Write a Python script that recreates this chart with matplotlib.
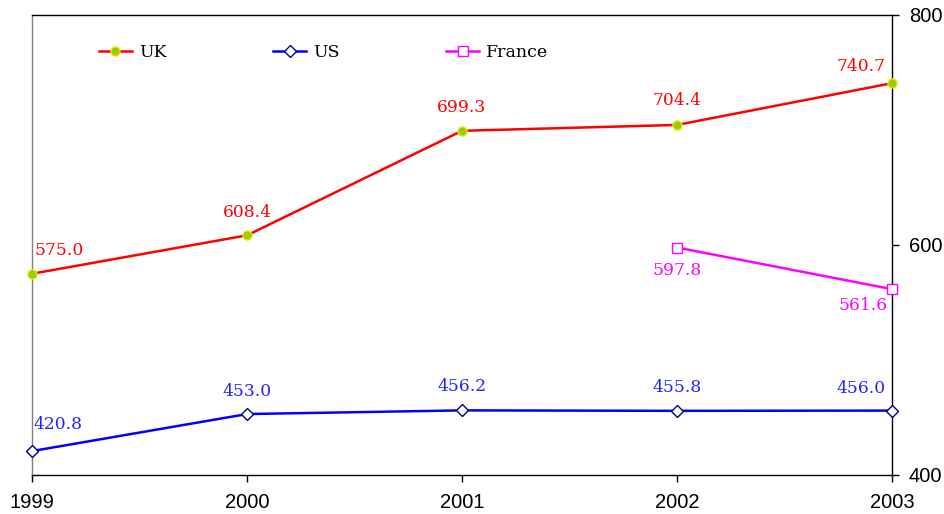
import matplotlib
matplotlib.use("Agg")
import matplotlib.pyplot as plt

years = [1999, 2000, 2001, 2002, 2003]
uk = [575.0, 608.4, 699.3, 704.4, 740.7]
us = [420.8, 453.0, 456.2, 455.8, 456.0]
france_years = [2002, 2003]
france = [597.8, 561.6]
yticks = [400, 600, 800]

fig = plt.figure(figsize=(9.44, 5.14), dpi=100)
ax = fig.add_axes([32/944, 1-475/514, 860/944, 460/514])
ax.set_xlim(1999, 2003)
ax.set_ylim(400, 800)

ax.plot(years, uk, color='#ff0000', lw=1.8, marker='o', ms=6.5,
        mfc='#99cc00', mec='#e6e600', mew=1.0, clip_on=False, label='UK', zorder=3)
ax.plot(years, us, color='#0000ff', lw=1.8, marker='D', ms=6.5,
        mfc='white', mec='#000080', mew=1.0, clip_on=False, label='US', zorder=3)
ax.plot(france_years, france, color='#ff00ff', lw=1.8, marker='s', ms=6.5,
        mfc='white', mec='#ff00ff', mew=1.0, clip_on=False, label='France', zorder=3)

px = 0.72  # points per pixel at 100 dpi
label_font = dict(family='DejaVu Serif', size=12.3)

def lab(x, y, color, dx, dy, ha):
    ax.annotate(f"{y:.1f}", (x, y), xytext=(dx*px, dy*px), textcoords='offset points',
                ha=ha, va='center', color=color, **label_font, annotation_clip=False)

uk_off = [(3, 23, 'left'), (0, 23, 'center'), (0, 23, 'center'), (0, 24, 'center'), (-6, 17, 'right')]
us_off = [(1, 27, 'left'), (0, 23, 'center'), (0, 24, 'center'), (0, 23, 'center'), (-6, 22, 'right')]
fr_off = [(0, -23, 'center'), (-4, -16, 'right')]
for x, y, (dx, dy, ha) in zip(years, uk, uk_off):
    lab(x, y, '#ff0000', dx, dy, ha)
for x, y, (dx, dy, ha) in zip(years, us, us_off):
    lab(x, y, '#2222ff', dx, dy, ha)
for x, y, (dx, dy, ha) in zip(france_years, france, fr_off):
    lab(x, y, '#ff00ff', dx, dy, ha)

ax.yaxis.tick_right()
ax.set_yticks(yticks)
ax.set_xticks(years)
ax.tick_params(axis='both', direction='out', length=5, width=1, labelsize=14.5, colors='black')
ax.tick_params(axis='y', pad=7)
ax.tick_params(axis='x', pad=8)
for t in ax.get_xticklabels() + ax.get_yticklabels():
    t.set_fontfamily('Liberation Sans')
ax.spines['left'].set_color('#808080')
for s in ['right', 'top', 'bottom']:
    ax.spines[s].set_color('black')
for s in ax.spines.values():
    s.set_linewidth(1.0)

leg = ax.legend(loc='upper left', bbox_to_anchor=(60/860, 1-22/460), ncol=3, frameon=False,
                prop=dict(family='DejaVu Serif', size=12.5), handlelength=1.9,
                handletextpad=0.4, columnspacing=6.15, borderaxespad=0)

fig.savefig('out.png', dpi=100)
